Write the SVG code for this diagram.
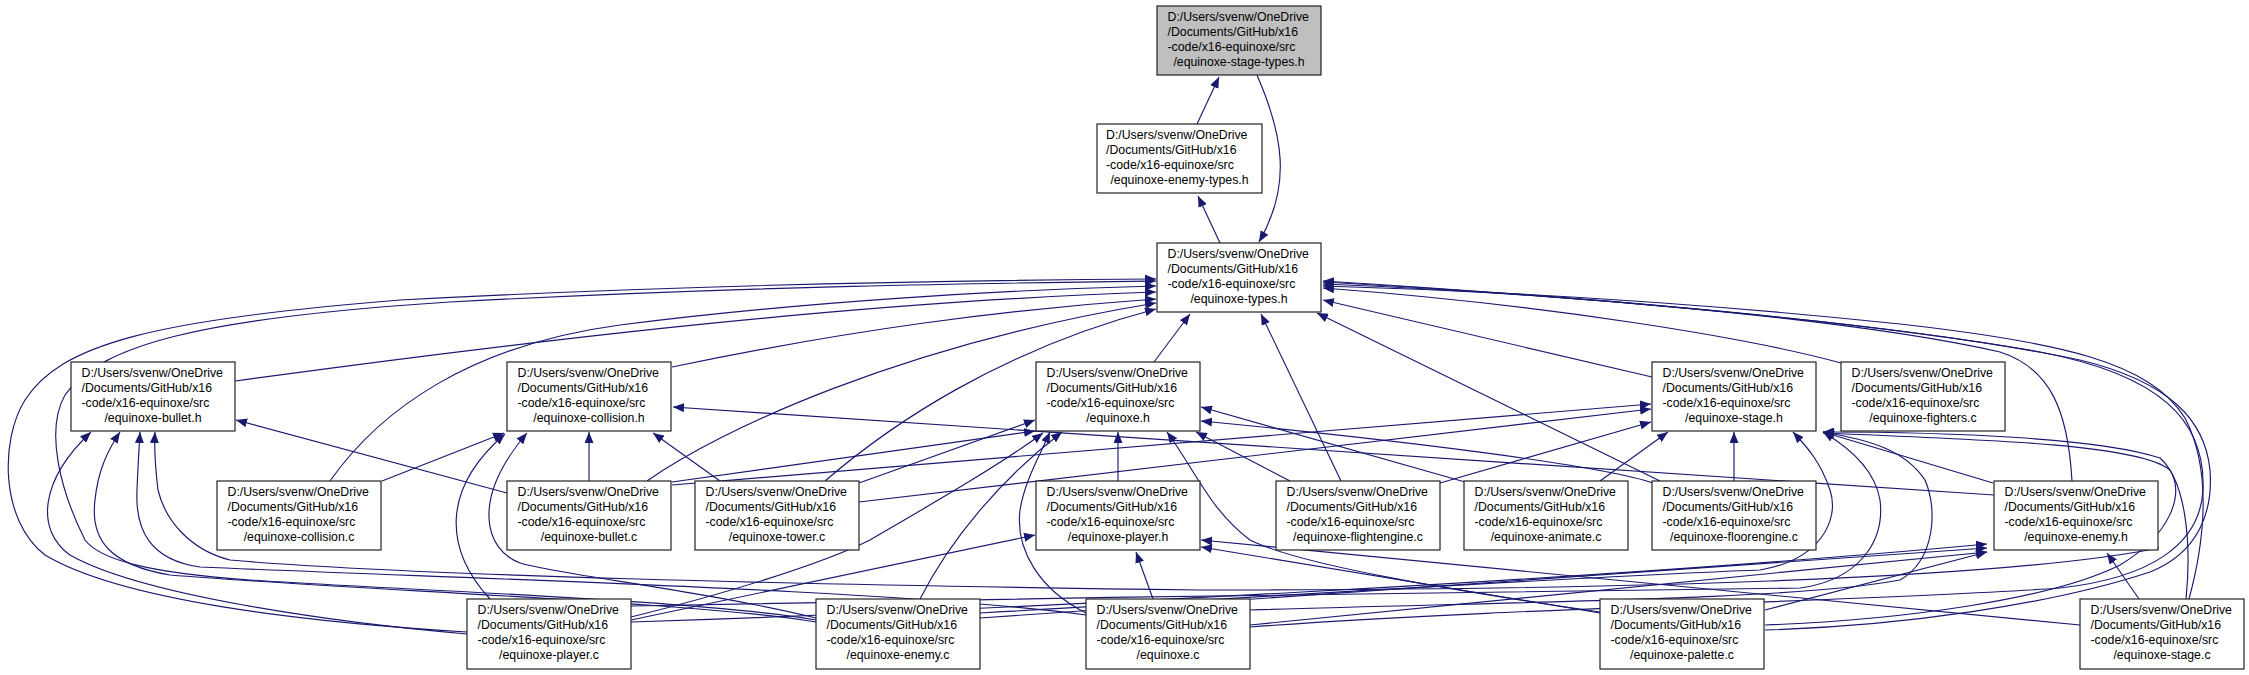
<svg xmlns="http://www.w3.org/2000/svg" width="2249" height="675" viewBox="0 0 2249 675">
<style>
.e{fill:none;stroke:#191970;stroke-width:1.15;marker-end:url(#ah)}
.n rect{fill:#ffffff;stroke:#222222;stroke-width:1.2}
.n.root rect{fill:#bfbfbf}
.n text{font-family:"Liberation Sans",Arial,Helvetica,sans-serif;font-size:12.3px;fill:#000}
.c{text-anchor:middle}
</style>
<defs>
<marker id="ah" viewBox="0 0 11 9" refX="11" refY="4.5" markerWidth="11" markerHeight="9" markerUnits="userSpaceOnUse" orient="auto"><path d="M0,0 L11,4.5 L0,9 z" fill="#191970"/></marker>
</defs>
<rect width="2249" height="675" fill="#ffffff"/>
<g id="connectors">
<path class="e" d="M1197,124 L1219,77"/>
<path class="e" d="M1257,75 C1283,135 1292,185 1259,242"/>
<path class="e" d="M1220,243 L1198,196"/>
<path class="e" d="M235,381 C550,338 860,302 1156,292"/>
<path class="e" d="M672,367 C850,330 1000,310 1156,299"/>
<path class="e" d="M1154,362 L1190,314"/>
<path class="e" d="M1652,377 L1323,300"/>
<path class="e" d="M1841,363 C1750,338 1550,305 1323,288"/>
<path class="e" d="M2072,481 C2068,410 2050,368 2000,352 C1850,318 1550,293 1323,284"/>
<path class="e" d="M330,481 C380,410 470,345 620,325 C800,302 1000,290 1156,286"/>
<path class="e" d="M647,481 C720,430 900,345 1156,303"/>
<path class="e" d="M825,481 C890,425 1000,350 1156,309"/>
<path class="e" d="M1341,481 L1261,314"/>
<path class="e" d="M1660,481 L1317,313"/>
<path class="e" d="M467,632 C300,622 120,600 45,555 C0,520 0,440 25,400 C60,345 150,320 400,300 C700,284 1000,280 1156,279"/>
<path class="e" d="M816,620 C700,600 400,590 250,580 C150,573 100,560 85,540 C60,490 45,430 65,395 C100,345 200,318 450,302 C750,286 1000,283 1156,281"/>
<path class="e" d="M1250,627 C1500,608 1900,600 2060,588 C2150,578 2200,545 2203,490 C2206,420 2160,375 2040,352 C1850,318 1550,295 1323,281"/>
<path class="e" d="M1765,630 C1900,626 2050,605 2150,572 C2200,552 2213,510 2210,470 C2205,420 2170,382 2080,360 C1900,322 1550,294 1323,282"/>
<path class="e" d="M2189,599 C2205,540 2212,470 2185,418 C2150,362 2060,342 1900,324 C1700,303 1500,291 1323,286"/>
<path class="e" d="M507,493 L236,420"/>
<path class="e" d="M467,634 C330,622 140,595 70,555 C35,530 40,480 91,432"/>
<path class="e" d="M816,622 C700,602 350,590 170,575 C110,565 90,540 95,500 C98,470 108,450 120,432"/>
<path class="e" d="M1086,615 C900,590 500,580 200,567 C150,560 135,530 137,490 C138,465 139,450 140,432"/>
<path class="e" d="M2159,548 C2000,580 1600,590 1200,590 C800,585 400,575 230,560 C190,550 165,520 158,490 C155,465 154,450 155,432"/>
<path class="e" d="M382,481 L504,433"/>
<path class="e" d="M490,599 C445,550 440,490 505,434"/>
<path class="e" d="M816,618 C700,590 560,575 520,563 C485,550 470,500 527,433"/>
<path class="e" d="M589,481 L589,432"/>
<path class="e" d="M720,481 L653,433"/>
<path class="e" d="M1994,495 L673,407"/>
<path class="e" d="M1118,481 L1118,432"/>
<path class="e" d="M672,482 L1035,431"/>
<path class="e" d="M859,483 L1035,420"/>
<path class="e" d="M631,617 C720,595 820,565 870,540 C930,505 1000,465 1043,433"/>
<path class="e" d="M920,599 C950,540 1000,480 1062,432"/>
<path class="e" d="M1086,613 C1040,590 1015,550 1020,510 C1025,480 1040,455 1050,432"/>
<path class="e" d="M1600,612 C1450,590 1300,565 1250,540 C1210,510 1195,470 1167,432"/>
<path class="e" d="M1290,481 L1196,432"/>
<path class="e" d="M1465,482 L1201,407"/>
<path class="e" d="M1653,483 C1600,465 1400,440 1201,421"/>
<path class="e" d="M672,485 L1651,404"/>
<path class="e" d="M859,502 L1651,409"/>
<path class="e" d="M1440,483 L1651,422"/>
<path class="e" d="M1600,481 L1668,432"/>
<path class="e" d="M1734,481 L1734,432"/>
<path class="e" d="M980,613 C1300,595 1550,578 1760,570 C1820,560 1840,520 1830,490 C1820,460 1805,445 1793,432"/>
<path class="e" d="M631,606 C1000,598 1500,592 1800,588 C1860,580 1885,540 1880,500 C1875,470 1850,448 1823,432"/>
<path class="e" d="M1250,610 C1500,602 1800,600 1900,580 C1935,560 1938,510 1925,480 C1905,450 1870,440 1823,432"/>
<path class="e" d="M1993,483 L1823,432"/>
<path class="e" d="M2186,599 C2192,540 2185,480 2160,458 C2100,438 1950,432 1823,432"/>
<path class="e" d="M1765,625 C1900,620 2050,600 2120,565 C2170,535 2185,495 2170,470 C2140,445 2000,440 1823,433"/>
<path class="e" d="M631,622 C1000,610 1600,580 1987,544"/>
<path class="e" d="M980,618 L1987,548"/>
<path class="e" d="M1250,625 L1987,552"/>
<path class="e" d="M1765,610 L1987,552"/>
<path class="e" d="M2139,599 L2107,553"/>
<path class="e" d="M631,620 L1035,535"/>
<path class="e" d="M1153,599 L1136,552"/>
<path class="e" d="M1600,613 L1201,547"/>
<path class="e" d="M2080,625 L1201,540"/>
</g>
<g id="node-stage-types-h" class="n root"><rect x="1157" y="6" width="164" height="69"/><text><tspan x="1167.5" y="21.3">D:/Users/svenw/OneDrive</tspan><tspan x="1167.5" y="36.1">/Documents/GitHub/x16</tspan><tspan x="1167.5" y="50.9">-code/x16-equinoxe/src</tspan><tspan class="c" x="1239" y="65.7">/equinoxe-stage-types.h</tspan></text></g>
<g id="node-enemy-types-h" class="n"><rect x="1097" y="124" width="165" height="69"/><text><tspan x="1106" y="139.3">D:/Users/svenw/OneDrive</tspan><tspan x="1106" y="154.1">/Documents/GitHub/x16</tspan><tspan x="1106" y="168.9">-code/x16-equinoxe/src</tspan><tspan class="c" x="1179.5" y="183.7">/equinoxe-enemy-types.h</tspan></text></g>
<g id="node-types-h" class="n"><rect x="1157" y="243" width="164" height="69"/><text><tspan x="1167.5" y="258.3">D:/Users/svenw/OneDrive</tspan><tspan x="1167.5" y="273.1">/Documents/GitHub/x16</tspan><tspan x="1167.5" y="287.9">-code/x16-equinoxe/src</tspan><tspan class="c" x="1239" y="302.7">/equinoxe-types.h</tspan></text></g>
<g id="node-bullet-h" class="n"><rect x="71" y="362" width="164" height="69"/><text><tspan x="81.5" y="377.3">D:/Users/svenw/OneDrive</tspan><tspan x="81.5" y="392.1">/Documents/GitHub/x16</tspan><tspan x="81.5" y="406.9">-code/x16-equinoxe/src</tspan><tspan class="c" x="153" y="421.7">/equinoxe-bullet.h</tspan></text></g>
<g id="node-collision-h" class="n"><rect x="507" y="362" width="164" height="69"/><text><tspan x="517.5" y="377.3">D:/Users/svenw/OneDrive</tspan><tspan x="517.5" y="392.1">/Documents/GitHub/x16</tspan><tspan x="517.5" y="406.9">-code/x16-equinoxe/src</tspan><tspan class="c" x="589" y="421.7">/equinoxe-collision.h</tspan></text></g>
<g id="node-equinoxe-h" class="n"><rect x="1036" y="362" width="164" height="69"/><text><tspan x="1046.5" y="377.3">D:/Users/svenw/OneDrive</tspan><tspan x="1046.5" y="392.1">/Documents/GitHub/x16</tspan><tspan x="1046.5" y="406.9">-code/x16-equinoxe/src</tspan><tspan class="c" x="1118" y="421.7">/equinoxe.h</tspan></text></g>
<g id="node-stage-h" class="n"><rect x="1652" y="362" width="164" height="69"/><text><tspan x="1662.5" y="377.3">D:/Users/svenw/OneDrive</tspan><tspan x="1662.5" y="392.1">/Documents/GitHub/x16</tspan><tspan x="1662.5" y="406.9">-code/x16-equinoxe/src</tspan><tspan class="c" x="1734" y="421.7">/equinoxe-stage.h</tspan></text></g>
<g id="node-fighters-c" class="n"><rect x="1841" y="362" width="164" height="69"/><text><tspan x="1851.5" y="377.3">D:/Users/svenw/OneDrive</tspan><tspan x="1851.5" y="392.1">/Documents/GitHub/x16</tspan><tspan x="1851.5" y="406.9">-code/x16-equinoxe/src</tspan><tspan class="c" x="1923" y="421.7">/equinoxe-fighters.c</tspan></text></g>
<g id="node-collision-c" class="n"><rect x="217" y="481" width="164" height="69"/><text><tspan x="227.5" y="496.3">D:/Users/svenw/OneDrive</tspan><tspan x="227.5" y="511.1">/Documents/GitHub/x16</tspan><tspan x="227.5" y="525.9">-code/x16-equinoxe/src</tspan><tspan class="c" x="299" y="540.7">/equinoxe-collision.c</tspan></text></g>
<g id="node-bullet-c" class="n"><rect x="507" y="481" width="164" height="69"/><text><tspan x="517.5" y="496.3">D:/Users/svenw/OneDrive</tspan><tspan x="517.5" y="511.1">/Documents/GitHub/x16</tspan><tspan x="517.5" y="525.9">-code/x16-equinoxe/src</tspan><tspan class="c" x="589" y="540.7">/equinoxe-bullet.c</tspan></text></g>
<g id="node-tower-c" class="n"><rect x="695" y="481" width="164" height="69"/><text><tspan x="705.5" y="496.3">D:/Users/svenw/OneDrive</tspan><tspan x="705.5" y="511.1">/Documents/GitHub/x16</tspan><tspan x="705.5" y="525.9">-code/x16-equinoxe/src</tspan><tspan class="c" x="777" y="540.7">/equinoxe-tower.c</tspan></text></g>
<g id="node-player-h" class="n"><rect x="1036" y="481" width="164" height="69"/><text><tspan x="1046.5" y="496.3">D:/Users/svenw/OneDrive</tspan><tspan x="1046.5" y="511.1">/Documents/GitHub/x16</tspan><tspan x="1046.5" y="525.9">-code/x16-equinoxe/src</tspan><tspan class="c" x="1118" y="540.7">/equinoxe-player.h</tspan></text></g>
<g id="node-flightengine-c" class="n"><rect x="1276" y="481" width="164" height="69"/><text><tspan x="1286.5" y="496.3">D:/Users/svenw/OneDrive</tspan><tspan x="1286.5" y="511.1">/Documents/GitHub/x16</tspan><tspan x="1286.5" y="525.9">-code/x16-equinoxe/src</tspan><tspan class="c" x="1358" y="540.7">/equinoxe-flightengine.c</tspan></text></g>
<g id="node-animate-c" class="n"><rect x="1464" y="481" width="164" height="69"/><text><tspan x="1474.5" y="496.3">D:/Users/svenw/OneDrive</tspan><tspan x="1474.5" y="511.1">/Documents/GitHub/x16</tspan><tspan x="1474.5" y="525.9">-code/x16-equinoxe/src</tspan><tspan class="c" x="1546" y="540.7">/equinoxe-animate.c</tspan></text></g>
<g id="node-floorengine-c" class="n"><rect x="1652" y="481" width="164" height="69"/><text><tspan x="1662.5" y="496.3">D:/Users/svenw/OneDrive</tspan><tspan x="1662.5" y="511.1">/Documents/GitHub/x16</tspan><tspan x="1662.5" y="525.9">-code/x16-equinoxe/src</tspan><tspan class="c" x="1734" y="540.7">/equinoxe-floorengine.c</tspan></text></g>
<g id="node-enemy-h" class="n"><rect x="1994" y="481" width="164" height="69"/><text><tspan x="2004.5" y="496.3">D:/Users/svenw/OneDrive</tspan><tspan x="2004.5" y="511.1">/Documents/GitHub/x16</tspan><tspan x="2004.5" y="525.9">-code/x16-equinoxe/src</tspan><tspan class="c" x="2076" y="540.7">/equinoxe-enemy.h</tspan></text></g>
<g id="node-player-c" class="n"><rect x="467" y="599" width="164" height="70"/><text><tspan x="477.5" y="614.3">D:/Users/svenw/OneDrive</tspan><tspan x="477.5" y="629.1">/Documents/GitHub/x16</tspan><tspan x="477.5" y="643.9">-code/x16-equinoxe/src</tspan><tspan class="c" x="549" y="658.7">/equinoxe-player.c</tspan></text></g>
<g id="node-enemy-c" class="n"><rect x="816" y="599" width="164" height="70"/><text><tspan x="826.5" y="614.3">D:/Users/svenw/OneDrive</tspan><tspan x="826.5" y="629.1">/Documents/GitHub/x16</tspan><tspan x="826.5" y="643.9">-code/x16-equinoxe/src</tspan><tspan class="c" x="898" y="658.7">/equinoxe-enemy.c</tspan></text></g>
<g id="node-equinoxe-c" class="n"><rect x="1086" y="599" width="164" height="70"/><text><tspan x="1096.5" y="614.3">D:/Users/svenw/OneDrive</tspan><tspan x="1096.5" y="629.1">/Documents/GitHub/x16</tspan><tspan x="1096.5" y="643.9">-code/x16-equinoxe/src</tspan><tspan class="c" x="1168" y="658.7">/equinoxe.c</tspan></text></g>
<g id="node-palette-c" class="n"><rect x="1600" y="599" width="164" height="70"/><text><tspan x="1610.5" y="614.3">D:/Users/svenw/OneDrive</tspan><tspan x="1610.5" y="629.1">/Documents/GitHub/x16</tspan><tspan x="1610.5" y="643.9">-code/x16-equinoxe/src</tspan><tspan class="c" x="1682" y="658.7">/equinoxe-palette.c</tspan></text></g>
<g id="node-stage-c" class="n"><rect x="2080" y="599" width="164" height="70"/><text><tspan x="2090.5" y="614.3">D:/Users/svenw/OneDrive</tspan><tspan x="2090.5" y="629.1">/Documents/GitHub/x16</tspan><tspan x="2090.5" y="643.9">-code/x16-equinoxe/src</tspan><tspan class="c" x="2162" y="658.7">/equinoxe-stage.c</tspan></text></g>
</svg>
